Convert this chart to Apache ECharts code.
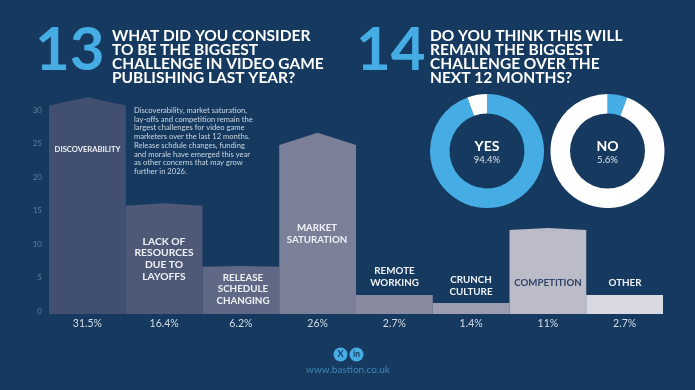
<!DOCTYPE html>
<html><head><meta charset="utf-8">
<style>html,body{margin:0;padding:0;background:#163a5f}#c{width:695px;height:390px}</style>
<script src="https://cdn.jsdelivr.net/npm/echarts@6/dist/echarts.min.js"></script>
</head><body><div id="c"></div>
<script>
const categories = ['Discoverability','Lack of resources due to layoffs','Release schedule changing','Market saturation','Remote working','Crunch culture','Competition','Other'];
const percentLabels = ['31.5%','16.4%','6.2%','26%','2.7%','1.4%','11%','2.7%'];
const barPeaks = [31.9,16.1,6.7,26.6,2.4,1.2,12.4,2.4];
const barShoulders = [30.7,15.7,6.6,24.8,2.4,1.2,12.1,2.4];
const barColors = ['#414f70','#4e5977','#5f6985','#7b7f98','#888a9f','#9c9eb0','#bbbcc8','#d9d9e1'];
const yTicks = [0,5,10,15,20,25,30];
const yesValues = [94.4,5.6];
const noValues = [5.6,94.4];

const BG='#163a5f', BLUE='#45ace4', FONT='Lato, "Open Sans", sans-serif';
const chart = echarts.init(document.getElementById('c'),null,{renderer:'canvas'});

function txt(x,y,lines,size,color,weight,align,lh){
  return {type:'text',x:x,y:y,z:100,silent:true,style:{text:lines.join('\n'),font:(weight||'normal')+' '+size+'px '+FONT,fill:color,align:align||'center',verticalAlign:'middle',lineHeight:lh||size*1.2}};
}
const W='#eef1f6';
const graphics=[
  txt(35,51,['13'],60,BLUE,'bold','left'),
  txt(112,57,['WHAT DID YOU CONSIDER','TO BE THE BIGGEST','CHALLENGE IN VIDEO GAME','PUBLISHING LAST YEAR?'],15.5,'#ffffff','bold','left',14.3),
  txt(356,51,['14'],60,BLUE,'bold','left'),
  txt(430,57,['DO YOU THINK THIS WILL','REMAIN THE BIGGEST','CHALLENGE OVER THE','NEXT 12 MONTHS?'],15.5,'#ffffff','bold','left',14.3),
  txt(134,141,['Discoverability, market saturation,','lay-offs and competition remain the','largest challenges for video game','marketers over the last 12 months.','Release schdule changes, funding','and morale have emerged this year','as other concerns that may grow','further in 2026.'],7.6,'#c9d6e3','normal','left',8.7),
  txt(87.5,150,['DISCOVERABILITY'],7.6,W,'bold'),
  txt(164,259,['LACK OF','RESOURCES','DUE TO','LAYOFFS'],10.3,W,'bold','center',11.8),
  txt(243,289,['RELEASE','SCHEDULE','CHANGING'],9.8,W,'bold','center',11.5),
  txt(317,234,['MARKET','SATURATION'],9.7,W,'bold','center',11.5),
  txt(394.5,277,['REMOTE','WORKING'],9.8,W,'bold','center',11.8),
  txt(471,286,['CRUNCH','CULTURE'],9.8,W,'bold','center',11.8),
  txt(548,282.5,['COMPETITION'],9.7,'#2f4468','bold'),
  txt(625,282.5,['OTHER'],9.8,W,'bold'),
  txt(487,146,['YES'],14,'#ffffff','bold'),
  txt(487,160,['94.4%'],9.5,'#d6e0ea'),
  txt(607.5,146,['NO'],14,'#ffffff','bold'),
  txt(607.5,160,['5.6%'],9.5,'#d6e0ea'),
  {type:'circle',z:99,silent:true,shape:{cx:340.5,cy:354.5,r:7},style:{fill:BLUE}},
  txt(340.5,354.5,['X'],9,BG,'bold'),
  {type:'circle',z:99,silent:true,shape:{cx:356.5,cy:354.5,r:7},style:{fill:BLUE}},
  txt(356.5,354.5,['in'],8.5,BG,'bold'),
  txt(348,370,['www.bastion.co.uk'],10,'#3f86b8')
];

function donut(name,center,values,colors){
  return {type:'pie',name:name,silent:true,center:center,radius:[37.5,57],startAngle:90,clockwise:true,
    label:{show:false},labelLine:{show:false},animation:false,
    data:values.map((v,i)=>({value:v,name:i?'rest':name,itemStyle:{color:colors[i]}}))};
}

chart.setOption({
  backgroundColor:BG,
  animation:false,
  grid:{left:49,right:32,top:90,bottom:76,containLabel:false},
  xAxis:{type:'category',data:percentLabels,boundaryGap:true,
    axisLine:{show:false},axisTick:{show:false},
    axisLabel:{color:'#d3dde8',fontFamily:FONT,fontSize:10.5,margin:4}},
  yAxis:{type:'value',min:-0.45,max:33,
    splitLine:{show:false},axisLine:{show:false},axisTick:{show:false},
    axisLabel:{customValues:yTicks,color:'#5f7d9b',fontFamily:FONT,fontSize:8,margin:7}},
  graphic:{elements:graphics},
  series:[
    {type:'custom',name:'Biggest challenge',silent:true,
     data:categories.map((c,i)=>[i,barPeaks[i],barShoulders[i]]),
     encode:{x:0,y:1},
     renderItem:function(p,api){
       const i=api.value(0),peak=api.coord([i,api.value(1)]),sh=api.coord([i,api.value(2)]);
       const w=api.size([1,0])[0],base=api.coord([i,-0.45])[1];
       const l=peak[0]-w/2,r=peak[0]+w/2;
       return {type:'polygon',shape:{points:[[l,base],[l,sh[1]],[peak[0],peak[1]],[r,sh[1]],[r,base]]},style:{fill:barColors[i]}};
     }},
    donut('Yes',[487,151],yesValues,[BLUE,'#ffffff']),
    donut('No',[607.5,151],noValues,[BLUE,'#ffffff'])
  ]
});
</script></body></html>
